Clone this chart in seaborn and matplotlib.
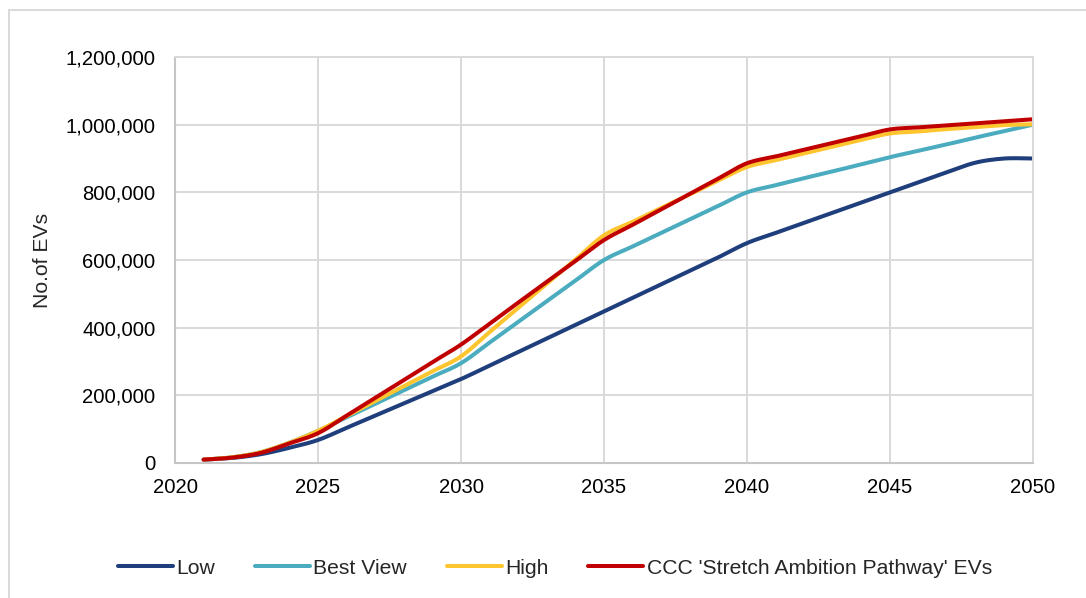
import numpy as np
import pandas as pd
import matplotlib
matplotlib.use("Agg")
import matplotlib.pyplot as plt
from matplotlib.patches import Rectangle
from matplotlib.ticker import FuncFormatter, MultipleLocator
import seaborn as sns

# Projected number of electric vehicles by scenario, 2021-2050
years = list(range(2021, 2051))
low = [10000, 15000, 26000, 45000, 68000, 104000, 140000, 176000, 212000, 248000,
       288000, 328000, 368000, 408000, 448000, 488000, 528000, 568000, 608000, 650000,
       680000, 710000, 740000, 770000, 800000, 830000, 860000, 888000, 900000, 900000]
best_view = [10000, 17000, 32000, 60000, 95000, 135000, 175000, 215000, 255000, 295000,
             356000, 417000, 478000, 539000, 600000, 640000, 680000, 720000, 760000, 800000,
             821000, 842000, 862000, 883000, 904000, 923000, 942000, 962000, 981000, 1000000]
high = [10000, 17000, 32000, 60000, 95000, 139000, 183000, 227000, 271000, 315000,
        387000, 458000, 530000, 601000, 673000, 713000, 754000, 794000, 835000, 875000,
        895000, 915000, 935000, 955000, 974000, 980000, 987000, 993000, 999000, 1001000]
ccc = [10000, 16000, 30000, 58000, 88000, 140000, 193000, 245000, 298000, 350000,
       412000, 474000, 535000, 597000, 659000, 704000, 750000, 795000, 841000, 886000,
       906000, 926000, 946000, 966000, 986000, 992000, 998000, 1004000, 1010000, 1016000]

series_names = ["Low", "Best View", "High", "CCC 'Stretch Ambition Pathway' EVs"]
series_values = [low, best_view, high, ccc]
colors = ["#1F3E7C", "#4AACBE", "#FFC52E", "#C00000"]


def smooth(x, y, n=12):
    """Smoothed line through the points using Catmull-Rom Bezier segments."""
    x = np.asarray(x, float)
    y = np.asarray(y, float)
    px = np.concatenate([[2 * x[0] - x[1]], x, [2 * x[-1] - x[-2]]])
    py = np.concatenate([[2 * y[0] - y[1]], y, [2 * y[-1] - y[-2]]])
    xs, ys = [], []
    t = np.linspace(0, 1, n)
    for i in range(1, len(px) - 2):
        p0x, p1x, p2x, p3x = px[i - 1], px[i], px[i + 1], px[i + 2]
        p0y, p1y, p2y, p3y = py[i - 1], py[i], py[i + 1], py[i + 2]
        c1x, c1y = p1x + (p2x - p0x) / 6, p1y + (p2y - p0y) / 6
        c2x, c2y = p2x - (p3x - p1x) / 6, p2y - (p3y - p1y) / 6
        bx = (1 - t) ** 3 * p1x + 3 * (1 - t) ** 2 * t * c1x + 3 * (1 - t) * t ** 2 * c2x + t ** 3 * p2x
        by = (1 - t) ** 3 * p1y + 3 * (1 - t) ** 2 * t * c1y + 3 * (1 - t) * t ** 2 * c2y + t ** 3 * p2y
        xs.append(bx if i == 1 else bx[1:])
        ys.append(by if i == 1 else by[1:])
    return np.concatenate(xs), np.concatenate(ys)


frames = []
for name, vals in zip(series_names, series_values):
    sx, sy = smooth(years, vals)
    frames.append(pd.DataFrame({"Year": sx, "EVs": sy, "Scenario": name}))
df = pd.concat(frames, ignore_index=True)

sns.set_theme(style="white")
plt.rcParams["font.family"] = ["Liberation Sans", "DejaVu Sans"]

fig = plt.figure(figsize=(10.86, 5.98), dpi=100)
ax = fig.add_axes([175 / 1086, 1 - 463 / 598, (1033 - 175) / 1086, (463 - 57) / 598])

sns.lineplot(data=df, x="Year", y="EVs", hue="Scenario", hue_order=series_names,
             palette=colors, linewidth=2.9, sort=False, estimator=None, ax=ax)

ax.set_xlim(2020, 2050)
ax.set_ylim(0, 1200000)
ax.xaxis.set_major_locator(MultipleLocator(5))
ax.yaxis.set_major_locator(MultipleLocator(200000))
ax.yaxis.set_major_formatter(FuncFormatter(lambda v, p: f"{int(v):,}"))
ax.grid(True, color="#D9D9D9", linewidth=1.4)
ax.set_axisbelow(True)
for side in ["top", "right"]:
    ax.spines[side].set_color("#D9D9D9")
    ax.spines[side].set_linewidth(1.4)
for side in ["left", "bottom"]:
    ax.spines[side].set_color("#C6C6C6")
    ax.spines[side].set_linewidth(1.5)
ax.tick_params(axis="both", length=0, labelsize=14.6, colors="black")
ax.tick_params(axis="y", pad=14)
ax.tick_params(axis="x", pad=11)
ax.set_xlabel("")
ax.set_ylabel("No.of EVs", fontsize=15.2)
ax.yaxis.set_label_coords((52 - 175) / 858, 0.5)

handles, labels = ax.get_legend_handles_labels()
ax.legend_.remove()
fig.legend(handles, labels, loc="center", bbox_to_anchor=(555 / 1086, 1 - 568 / 598), ncol=4,
           frameon=False, fontsize=15.2, handlelength=2.6, handletextpad=0.15,
           columnspacing=1.9)

fig.patches.append(Rectangle((9 / 1086, -0.05), 1.2, 1 - 10 / 598 + 0.05,
                             transform=fig.transFigure, fill=False,
                             edgecolor="#D9D9D9", linewidth=1.4))

fig.savefig("out.png", dpi=100, facecolor="white")
